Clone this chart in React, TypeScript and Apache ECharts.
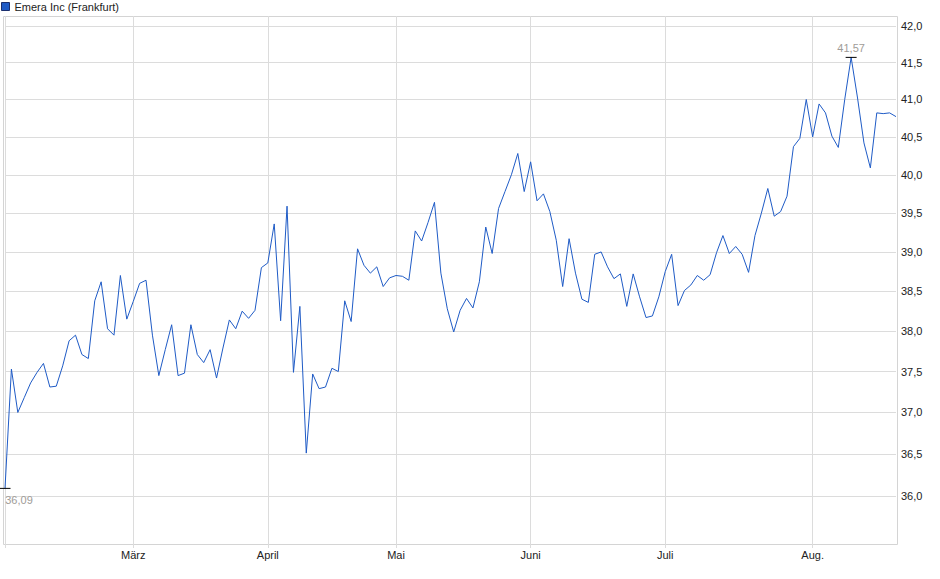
import React, { useEffect, useRef } from 'react';
import * as echarts from 'echarts';

const SERIES_NAME = 'Emera Inc (Frankfurt)';

// Handelstage: Werktage ohne Börsenfeiertage
const START_DATE = '2025-02-03';
const END_DATE = '2025-08-20';
const HOLIDAYS = ['2025-04-18', '2025-04-21', '2025-05-01'];

const MONTH_LABELS = ['Jan.', 'Feb.', 'März', 'April', 'Mai', 'Juni', 'Juli', 'Aug.', 'Sept.', 'Okt.', 'Nov.', 'Dez.'];

// Schlusskurse in EUR
const PRICES = [
  36.09, 37.53, 37.0, 37.18, 37.36, 37.49, 37.6, 37.31, 37.32, 37.57,
  37.88, 37.95, 37.71, 37.66, 38.38, 38.62, 38.03, 37.95, 38.7, 38.15,
  38.37, 38.6, 38.64, 37.95, 37.45, 37.77, 38.08, 37.45, 37.48, 38.08,
  37.71, 37.61, 37.77, 37.42, 37.79, 38.14, 38.03, 38.25, 38.16, 38.26,
  38.8, 38.86, 39.36, 38.13, 39.59, 37.49, 38.31, 36.51, 37.47, 37.29,
  37.31, 37.54, 37.5, 38.38, 38.12, 39.04, 38.83, 38.73, 38.81, 38.56,
  38.67, 38.7, 38.69, 38.64, 39.27, 39.14, 39.38, 39.64, 38.73, 38.28,
  37.99, 38.26, 38.41, 38.29, 38.62, 39.32, 38.98, 39.56, 39.78, 40.0,
  40.28, 39.78, 40.17, 39.66, 39.75, 39.52, 39.15, 38.56, 39.17, 38.73,
  38.4, 38.36, 38.97, 39.0, 38.81, 38.66, 38.72, 38.31, 38.72, 38.43,
  38.17, 38.19, 38.43, 38.75, 38.97, 38.32, 38.51, 38.58, 38.7, 38.64,
  38.71, 38.99, 39.21, 38.98, 39.07, 38.97, 38.74, 39.21, 39.5, 39.82,
  39.46, 39.52, 39.72, 40.37, 40.48, 41.0, 40.5, 40.94, 40.82, 40.51,
  40.36, 41.0, 41.57, 41.02, 40.42, 40.09, 40.82, 40.81, 40.82, 40.77,
];

const Y_TICKS = [36.0, 36.5, 37.0, 37.5, 38.0, 38.5, 39.0, 39.5, 40.0, 40.5, 41.0, 41.5, 42.0];
const Y_MIN = 35.426;
const Y_MAX = 42.138;

const FONT = 'Liberation Sans, Arial, sans-serif';
const LINE_COLOR = '#1f5bc6';
const GRID_COLOR = '#dcdcdc';

function tradingDays(): string[] {
  const out: string[] = [];
  const d = new Date(START_DATE + 'T00:00:00Z');
  const end = new Date(END_DATE + 'T00:00:00Z');
  while (d <= end) {
    const wd = d.getUTCDay();
    const s = d.toISOString().slice(0, 10);
    if (wd !== 0 && wd !== 6 && !HOLIDAYS.includes(s)) out.push(s);
    d.setUTCDate(d.getUTCDate() + 1);
  }
  return out;
}

const DATES = tradingDays();

const isMonthStart = (i: number) =>
  i === 0 || DATES[i].slice(5, 7) !== DATES[i - 1].slice(5, 7);

const fmt = (v: number, digits: number) => v.toFixed(digits).replace('.', ',');

const App: React.FC = () => {
  const chartRef = useRef<HTMLDivElement>(null);

  useEffect(() => {
    if (!chartRef.current) return;
    const chart = echarts.init(chartRef.current, undefined, { renderer: 'svg' });

    const option = {
      animation: false,
      textStyle: { fontFamily: FONT },
      legend: {
        data: [SERIES_NAME],
        left: 1,
        top: 1,
        padding: 0,
        icon: 'rect',
        itemWidth: 8,
        itemHeight: 8,
        itemStyle: { borderColor: '#1b2f6e', borderWidth: 1 },
        textStyle: { fontSize: 11, color: '#222', fontFamily: FONT },
      },
      grid: { left: 5, right: 44, top: 16, bottom: 34 },
      graphic: [
        {
          type: 'rect',
          silent: true,
          shape: { x: 3.5, y: 16.5, width: 894, height: 528 },
          style: { fill: 'none', stroke: '#d4d4d4', lineWidth: 1 },
        },
      ],
      xAxis: {
        type: 'category',
        data: DATES,
        boundaryGap: false,
        axisLine: { show: false },
        axisTick: {
          show: true,
          length: 3,
          interval: (i: number) => isMonthStart(i),
          lineStyle: { color: GRID_COLOR },
        },
        axisLabel: {
          interval: (i: number) => i > 0 && isMonthStart(i),
          formatter: (v: string) => MONTH_LABELS[Number(v.slice(5, 7)) - 1],
          fontSize: 11,
          color: '#222',
          margin: 4,
          fontFamily: FONT,
        },
        splitLine: {
          show: true,
          interval: (i: number) => isMonthStart(i),
          lineStyle: { color: GRID_COLOR, width: 1 },
        },
      },
      yAxis: {
        type: 'log',
        logBase: 10,
        position: 'right',
        min: Y_MIN,
        max: Y_MAX,
        axisLine: { show: false },
        axisTick: { show: false, customValues: Y_TICKS },
        axisLabel: {
          customValues: Y_TICKS,
          formatter: (v: number) => fmt(v, 1),
          fontSize: 11,
          color: '#222',
          margin: 5,
          fontFamily: FONT,
        },
        splitLine: { show: true, lineStyle: { color: GRID_COLOR, width: 1 } },
      },
      series: [
        {
          name: SERIES_NAME,
          type: 'line',
          data: PRICES,
          showSymbol: false,
          lineStyle: { color: LINE_COLOR, width: 1 },
          itemStyle: { color: LINE_COLOR },
          markPoint: {
            symbol: 'rect',
            symbolSize: [11, 1],
            itemStyle: { color: '#000' },
            label: {
              show: true,
              color: '#a09c98',
              fontSize: 11,
              fontFamily: FONT,
              formatter: (p: any) => fmt(p.value, 2),
            },
            data: [
              { type: 'min', label: { position: 'inside', offset: [14, 12] } },
              { type: 'max', label: { position: 'inside', offset: [0, -9] } },
            ],
          },
        },
      ],
    };

    chart.setOption(option);

    return () => {
      chart.dispose();
    };
  }, []);

  return (
    <div
      ref={chartRef}
      style={{ position: 'absolute', left: 0, top: 0, width: '940px', height: '579px', background: '#fff' }}
    />
  );
};

export default App;
